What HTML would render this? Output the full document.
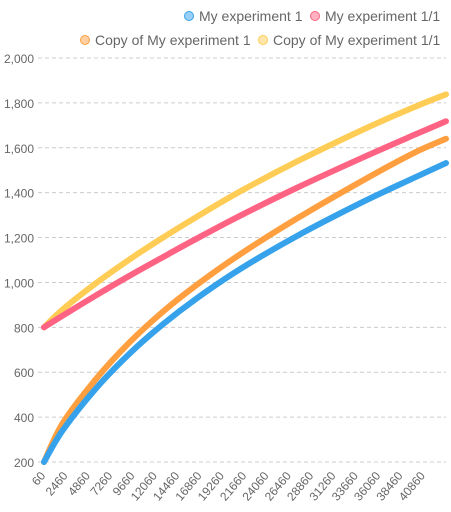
<!DOCTYPE html>
<html><head><meta charset="utf-8"><style>
body{margin:0;background:#fff;}
svg{display:block;font-family:"Liberation Sans",sans-serif;}
</style></head><body>
<svg id="c" width="451" height="512"></svg>
<script>
const xs=[60,2102,5755,9302,12848,16502,21122,27248,34340,39713,43260];
const blueVals=[200,343,533,685,814,930,1059,1207,1359,1464,1532];
const orangeVals=[200,375,575,735,870,990,1125,1285,1455,1575,1640];
const pinkVals=[800,853,945,1031,1113,1196,1297,1422,1557,1655,1718];
const yellowVals=[800,881,1000,1104,1200,1293,1405,1539,1681,1779,1838];
const yTicks=[200,400,600,800,1000,1200,1400,1600,1800,2000];
const xTicks=[60,2460,4860,7260,9660,12060,14460,16860,19260,21660,24060,26460,28860,31260,33660,36060,38460,40860];
const series=[
 {name:"Copy of My experiment 1/1",vals:yellowVals,col:"#ffcd56",key:"yellow"},
 {name:"My experiment 1/1",vals:pinkVals,col:"#ff6384",key:"pink"},
 {name:"Copy of My experiment 1",vals:orangeVals,col:"#ff9f40",key:"orange"},
 {name:"My experiment 1",vals:blueVals,col:"#36a2eb",key:"blue"}];
const NS="http://www.w3.org/2000/svg",svg=document.getElementById('c');
const X=v=>44+(v-60)/43200*402, Y=v=>462-(v-200)/1800*404;
function mk(t,a,p){const e=document.createElementNS(NS,t);for(const k in a)e.setAttribute(k,a[k]);(p||svg).appendChild(e);return e;}
yTicks.forEach(t=>{const g=mk('g',{});


mk('line',{x1:38,x2:446,y1:Y(t),y2:Y(t),stroke:'#ccc','stroke-dasharray':'4,3'},g);
const tx=mk('text',{x:34,y:Y(t)+5,'text-anchor':'end','font-size':12,fill:'#666'},g);tx.textContent=t.toLocaleString('en-US');});
xTicks.forEach(t=>{const tx=mk('text',{transform:`translate(${X(t)+2},${476}) rotate(-50)`,'text-anchor':'end','font-size':12,fill:'#666'});


tx.textContent=t;});
function path(vals){const p=xs.map((x,i)=>[X(x),Y(vals[i])]);let d=`M${p[0][0]},${p[0][1]}`;
for(let i=0;i<p.length-1;i++){const p0=p[i-1]||p[i],p1=p[i],p2=p[i+1],p3=p[i+2]||p2;
d+=`C${p1[0]+(p2[0]-p0[0])/6},${p1[1]+(p2[1]-p0[1])/6} ${p2[0]-(p3[0]-p1[0])/6},${p2[1]-(p3[1]-p1[1])/6} ${p2[0]},${p2[1]}`;}return d;}
series.forEach(s=>{const e=mk('path',{d:path(s.vals),fill:'none',stroke:s.col,'stroke-width':6,'stroke-linecap':'round','stroke-linejoin':'round'});

});
const leg=[["My experiment 1","#36a2eb",189,16],["My experiment 1/1","#ff6384",315,16],["Copy of My experiment 1","#ff9f40",85,40],["Copy of My experiment 1/1","#ffcd56",263,40]];
leg.forEach(l=>{const g=mk('g',{});


mk('circle',{cx:l[2],cy:l[3],r:4.5,fill:l[1]+'80',stroke:l[1],'stroke-width':1},g);
const t=mk('text',{x:l[2]+10,y:l[3]+5,'font-size':14,fill:'#666'},g);t.textContent=l[0];});
</script>
</body></html>
